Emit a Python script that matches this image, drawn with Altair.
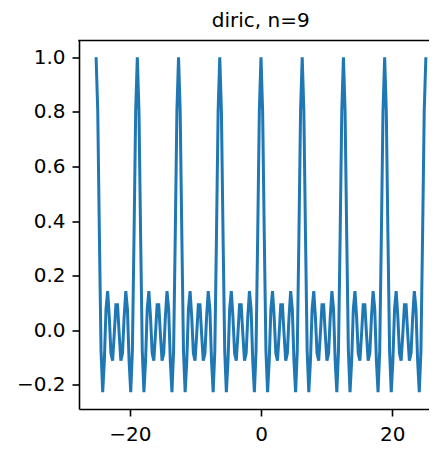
import numpy as np
import pandas as pd
import altair as alt

# x grid: 201 samples from -8*pi to 8*pi
x_start = -8 * np.pi
x_stop = 8 * np.pi
n_points = 201

# diric(x, 9) sampled values (read per sample)
y_values = [
    1.0, 0.80216, 0.34426, -0.07506, -0.22656, -0.11111, 0.07819, 0.14392, 0.04844, -0.08406, -0.11111, -0.01418, 0.09400, 0.09400, -0.01418, -0.11111, -0.08406, 0.04844, 0.14392, 0.07819, -0.11111, -0.22656, -0.07506, 0.34426, 0.80216,
    1.0, 0.80216, 0.34426, -0.07506, -0.22656, -0.11111, 0.07819, 0.14392, 0.04844, -0.08406, -0.11111, -0.01418, 0.09400, 0.09400, -0.01418, -0.11111, -0.08406, 0.04844, 0.14392, 0.07819, -0.11111, -0.22656, -0.07506, 0.34426, 0.80216,
    1.0, 0.80216, 0.34426, -0.07506, -0.22656, -0.11111, 0.07819, 0.14392, 0.04844, -0.08406, -0.11111, -0.01418, 0.09400, 0.09400, -0.01418, -0.11111, -0.08406, 0.04844, 0.14392, 0.07819, -0.11111, -0.22656, -0.07506, 0.34426, 0.80216,
    1.0, 0.80216, 0.34426, -0.07506, -0.22656, -0.11111, 0.07819, 0.14392, 0.04844, -0.08406, -0.11111, -0.01418, 0.09400, 0.09400, -0.01418, -0.11111, -0.08406, 0.04844, 0.14392, 0.07819, -0.11111, -0.22656, -0.07506, 0.34426, 0.80216,
    1.0, 0.80216, 0.34426, -0.07506, -0.22656, -0.11111, 0.07819, 0.14392, 0.04844, -0.08406, -0.11111, -0.01418, 0.09400, 0.09400, -0.01418, -0.11111, -0.08406, 0.04844, 0.14392, 0.07819, -0.11111, -0.22656, -0.07506, 0.34426, 0.80216,
    1.0, 0.80216, 0.34426, -0.07506, -0.22656, -0.11111, 0.07819, 0.14392, 0.04844, -0.08406, -0.11111, -0.01418, 0.09400, 0.09400, -0.01418, -0.11111, -0.08406, 0.04844, 0.14392, 0.07819, -0.11111, -0.22656, -0.07506, 0.34426, 0.80216,
    1.0, 0.80216, 0.34426, -0.07506, -0.22656, -0.11111, 0.07819, 0.14392, 0.04844, -0.08406, -0.11111, -0.01418, 0.09400, 0.09400, -0.01418, -0.11111, -0.08406, 0.04844, 0.14392, 0.07819, -0.11111, -0.22656, -0.07506, 0.34426, 0.80216,
    1.0, 0.80216, 0.34426, -0.07506, -0.22656, -0.11111, 0.07819, 0.14392, 0.04844, -0.08406, -0.11111, -0.01418, 0.09400, 0.09400, -0.01418, -0.11111, -0.08406, 0.04844, 0.14392, 0.07819, -0.11111, -0.22656, -0.07506, 0.34426, 0.80216,
    1.0,
]

x_ticks = [-20, 0, 20]
y_ticks = [-0.2, 0.0, 0.2, 0.4, 0.6, 0.8, 1.0]
title_text = ["diric, n=9"]

x_values = np.linspace(x_start, x_stop, n_points)
df = pd.DataFrame({"x": x_values, "y": y_values})

W = 350
H = 368.5
FONT = "DejaVu Sans"

line = alt.Chart(df).mark_line(color="#1f77b4", strokeWidth=3).encode(
    x=alt.X(
        "x:Q",
        scale=alt.Scale(domain=[-27.74, 25.61], nice=False, zero=False),
        axis=alt.Axis(
            values=x_ticks,
            title=None,
            grid=False,
            labelExpr="replace(format(datum.value, '.0f'), '-', '\u2212')",
            labelFont=FONT,
            labelFontSize=20,
            labelColor="black",
            labelPadding=8.5,
            tickSize=7,
            tickWidth=1.6,
            tickColor="black",
            domainColor="black",
            domainWidth=1.6,
        ),
    ),
    y=alt.Y(
        "y:Q",
        scale=alt.Scale(domain=[-0.2879, 1.0615], nice=False, zero=False),
        axis=alt.Axis(
            values=y_ticks,
            title=None,
            grid=False,
            labelExpr="replace(format(datum.value, '.1f'), '-', '\u2212')",
            labelFont=FONT,
            labelFontSize=20,
            labelColor="black",
            labelPadding=7,
            tickSize=7,
            tickWidth=1.6,
            tickColor="black",
            domainColor="black",
            domainWidth=1.6,
        ),
    ),
)

top_spine = alt.Chart(pd.DataFrame({"a": [0]})).mark_rule(color="black", strokeWidth=1.6).encode(
    x=alt.value(-0.8), x2=alt.value(W), y=alt.value(0)
)

title = alt.Chart(pd.DataFrame({"t": title_text})).mark_text(
    font=FONT, fontSize=20, color="black", align="center", baseline="alphabetic"
).encode(text="t:N", x=alt.value(181.7), y=alt.value(-13.8))

chart = alt.layer(line, top_spine, title).properties(
    width=W,
    height=H,
    autosize=alt.AutoSizeParams(type="none"),
    padding={"left": 71, "top": 32.5, "right": 0, "bottom": 32},
).configure_view(stroke=None)

chart.save("out.html", embed_options={"renderer": "svg", "actions": False})
